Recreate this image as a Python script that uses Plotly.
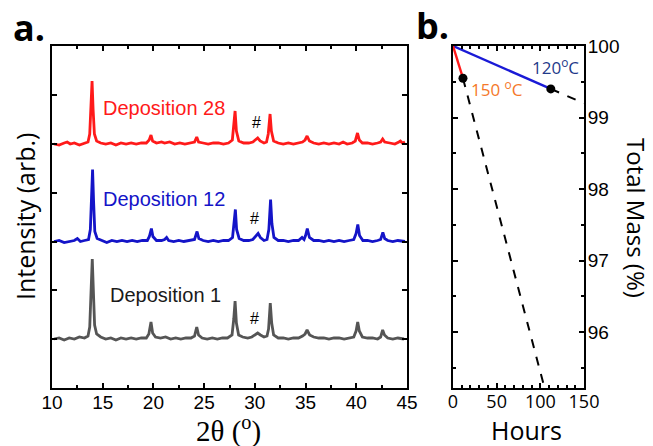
import plotly.graph_objects as go

# ---------------- Panel a: XRD patterns (2theta in degrees, intensity arb.) ----------------
dep1 = [(10.2,0),(10.7,1),(11.2,-1),(11.7,1),(12.2,0),(12.7,2),(13.2,1),(13.55,3),(13.72,12),
        (13.85,45),(13.97,80),(14.08,48),(14.2,14),(14.4,5),(14.8,2),(15.3,0),(15.8,1),(16.3,-1),
        (16.8,1),(17.3,0),(17.8,1),(18.3,0),(18.8,1),(19.3,1),(19.55,5),(19.76,17),(19.92,6),
        (20.2,2),(20.7,1),(21.2,2),(21.7,0),(22.2,1),(22.7,0),(23.2,1),(23.7,1),(24.05,3),
        (24.27,12),(24.45,4),(24.8,1),(25.3,0),(25.8,1),(26.3,0),(26.8,1),(27.3,1),(27.75,4),
        (27.92,20),(28.05,38),(28.18,16),(28.4,4),(28.8,2),(29.3,1),(29.7,2),(30.05,4),(30.28,6),
        (30.55,4),(30.9,2),(31.2,3),(31.35,10),(31.52,36),(31.66,16),(31.85,4),(32.3,1),(32.8,1),
        (33.3,0),(33.8,1),(34.3,1),(34.7,3),(34.95,5),(35.15,9),(35.4,4),(35.8,2),(36.3,1),
        (36.8,1),(37.3,0),(37.8,1),(38.3,1),(38.8,0),(39.3,1),(39.75,2),(39.98,8),(40.14,17),
        (40.3,8),(40.6,2),(41.1,1),(41.6,1),(42.1,0),(42.4,2),(42.6,9),(42.78,4),(43.1,1),
        (43.6,0),(44.1,1),(44.7,0)]

dep12 = [(10.2,0),(10.7,1),(11.2,-1),(11.7,0),(12.2,1),(12.5,3),(12.8,0),(13.2,1),(13.6,2),
         (13.78,12),(13.9,45),(14.0,72),(14.1,40),(14.22,10),(14.45,3),(14.9,1),(15.4,-1),
         (15.9,1),(16.4,0),(16.9,1),(17.4,0),(17.9,1),(18.4,0),(18.9,1),(19.4,1),(19.6,5),
         (19.8,13),(19.95,5),(20.3,1),(20.8,1),(21.1,2),(21.3,4),(21.5,1),(22.0,0),(22.5,1),
         (23.0,0),(23.5,1),(24.05,2),(24.3,10),(24.48,3),(24.9,1),(25.4,0),(25.9,1),(26.4,0),
         (26.9,1),(27.4,1),(27.8,4),(27.95,18),(28.08,32),(28.2,12),(28.45,3),(28.9,1),(29.4,1),
         (29.8,2),(30.1,5),(30.32,8),(30.55,4),(30.9,1),(31.2,2),(31.38,12),(31.55,42),(31.68,18),
         (31.88,4),(32.3,1),(32.8,1),(33.3,0),(33.8,1),(34.3,1),(34.65,4),(34.85,2),(35.0,6),
         (35.17,13),(35.38,4),(35.8,1),(36.3,1),(36.8,0),(37.3,1),(37.8,0),(38.3,1),(38.8,0),
         (39.3,1),(39.75,2),(39.98,8),(40.15,17),(40.32,6),(40.65,1),(41.1,1),(41.6,0),(42.1,1),
         (42.4,2),(42.62,9),(42.8,3),(43.1,1),(43.6,0),(44.1,1),(44.8,0)]

dep28 = [(10.2,0),(10.7,-1),(11.2,1),(11.5,2),(11.8,0),(12.2,1),(12.7,-1),(13.2,1),(13.55,2),
         (13.72,10),(13.85,40),(13.95,63),(14.05,35),(14.18,10),(14.4,3),(14.8,1),(15.3,0),
         (15.8,1),(16.3,-1),(16.8,1),(17.3,0),(17.8,1),(18.3,0),(18.8,1),(19.3,1),(19.58,4),
         (19.76,9),(19.92,3),(20.3,1),(20.8,2),(21.1,1),(21.6,2),(22.1,0),(22.6,1),(23.1,0),
         (23.6,1),(24.05,2),(24.27,7),(24.45,2),(24.9,1),(25.4,0),(25.9,1),(26.4,1),(26.9,0),
         (27.4,1),(27.78,4),(27.93,18),(28.05,33),(28.18,13),(28.42,3),(28.9,1),(29.4,1),
         (29.8,2),(30.08,4),(30.28,6),(30.52,3),(30.9,1),(31.15,2),(31.32,10),(31.5,30),
         (31.63,13),(31.85,3),(32.3,1),(32.8,0),(33.3,1),(33.8,0),(34.3,1),(34.7,2),(34.95,4),
         (35.15,8),(35.38,3),(35.8,1),(36.3,0),(36.8,1),(37.3,0),(37.8,1),(38.3,0),(38.7,2),
         (39.1,0),(39.6,1),(39.9,3),(40.12,11),(40.3,4),(40.6,1),(41.1,1),(41.6,0),(42.1,1),
         (42.4,2),(42.6,5),(42.8,2),(43.3,1),(43.8,0),(44.2,2),(44.35,3),(44.55,1),(44.8,2)]

pattern_names = ["Deposition 1", "Deposition 12", "Deposition 28"]
pattern_offsets = [0, 97.5, 195]
pattern_colors = ["#555555", "#1414c8", "#ff1a1a"]
label_colors = ["#1a1a1a", "#1414c8", "#ff1a1a"]
label_x = [21.2, 21.05, 21.05]
label_y = [44, 140, 231]
hash_x = [30.0, 30.0, 30.2]
hash_y = [21, 121, 216]

# ---------------- Panel b: mass loss vs time ----------------
hours_120 = [0, 112]
mass_120 = [100, 99.40]
hours_120_ext = [112, 150]
mass_120_ext = [99.40, 99.20]
hours_150 = [0, 11.4]
mass_150 = [100, 99.55]
hours_150_ext = [11.4, 110]
mass_150_ext = [99.55, 94.98]

W, H = 653, 446
fig = go.Figure()

for pts, name, off, col in zip([dep1, dep12, dep28], pattern_names, pattern_offsets, pattern_colors):
    fig.add_trace(go.Scatter(x=[p[0] for p in pts], y=[p[1] + off for p in pts], mode="lines",
                             line=dict(color=col, width=2.8), name=name, showlegend=False,
                             xaxis="x", yaxis="y"))

fig.add_trace(go.Scatter(x=hours_150_ext, y=mass_150_ext, mode="lines",
                         line=dict(color="black", width=2, dash="dash"), showlegend=False,
                         xaxis="x2", yaxis="y2"))
fig.add_trace(go.Scatter(x=hours_120_ext, y=mass_120_ext, mode="lines",
                         line=dict(color="black", width=2, dash="dash"), showlegend=False,
                         xaxis="x2", yaxis="y2"))
fig.add_trace(go.Scatter(x=hours_120, y=mass_120, mode="lines",
                         line=dict(color="#1a1ad6", width=2.4), showlegend=False,
                         xaxis="x2", yaxis="y2"))
fig.add_trace(go.Scatter(x=hours_150, y=mass_150, mode="lines",
                         line=dict(color="#ff1a1a", width=2.4), showlegend=False,
                         xaxis="x2", yaxis="y2"))
fig.add_trace(go.Scatter(x=[hours_150[1], hours_120[1]], y=[mass_150[1], mass_120[1]], mode="markers",
                         marker=dict(color="black", size=9), showlegend=False,
                         xaxis="x2", yaxis="y2"))

tickfont = dict(family="Liberation Sans, Arial", size=19, color="black")
axis_common = dict(showline=True, linecolor="black", linewidth=2, mirror="ticks",
                   ticks="inside", tickcolor="black", tickwidth=1.5, ticklen=5,
                   showgrid=False, zeroline=False, automargin=False)

ann = []
for name, lx, ly, lc, hx, hy in zip(pattern_names, label_x, label_y, label_colors, hash_x, hash_y):
    ann.append(dict(x=lx, y=ly, xref="x", yref="y", text=name, showarrow=False,
                    font=dict(family="Liberation Sans, Arial", size=20, color=lc)))
    ann.append(dict(x=hx, y=hy, xref="x", yref="y", text="#", showarrow=False,
                    font=dict(family="Liberation Sans, Arial", size=16, color="black")))

ann += [
    dict(x=116.8, y=99.71, xref="x2", yref="y2", text="120<sup>o</sup>C", showarrow=False,
         font=dict(family="Open Sans", size=17, color="#1f3a8a")),
    dict(x=50.4, y=99.40, xref="x2", yref="y2", text="150 <sup>o</sup>C", showarrow=False,
         font=dict(family="Open Sans", size=17, color="#f5782a")),
    dict(x=29 / W, y=1 - 28 / H, xref="paper", yref="paper", text="<b>a.</b>", showarrow=False,
         font=dict(family="Open Sans", size=36, color="black")),
    dict(x=432 / W, y=1 - 25 / H, xref="paper", yref="paper", text="<b>b.</b>", showarrow=False,
         font=dict(family="Open Sans", size=36, color="black")),
    dict(x=25 / W, y=1 - 217 / H, xref="paper", yref="paper", text="Intensity (arb.)",
         textangle=-90, showarrow=False, font=dict(family="Open Sans", size=25, color="black")),
    dict(x=637 / W, y=1 - 218 / H, xref="paper", yref="paper", text="Total Mass (%)",
         textangle=90, showarrow=False, font=dict(family="Open Sans", size=24, color="black")),
    dict(x=229 / W, y=1 - 429 / H, xref="paper", yref="paper", text="2θ (<sup>o</sup>)",
         showarrow=False, font=dict(family="Liberation Serif", size=29, color="black")),
    dict(x=526 / W, y=1 - 430 / H, xref="paper", yref="paper", text="Hours",
         showarrow=False, font=dict(family="Open Sans", size=25, color="black")),
]
for a in ann:
    a["xanchor"] = "center"
    a["yanchor"] = "middle"

y_top, y_bot = 1 - 46 / H, 1 - 388 / H

fig.update_layout(
    width=W, height=H, margin=dict(l=0, r=0, t=0, b=0),
    paper_bgcolor="white", plot_bgcolor="white",
    xaxis=dict(domain=[52 / W, 407 / W], range=[10, 45], dtick=5, tick0=10,
               minor=dict(dtick=2.5, ticks="inside", ticklen=3, tickcolor="black"),
               tickfont=tickfont, anchor="y", ticklabelstandoff=-4, **axis_common),
    yaxis=dict(domain=[y_bot, y_top], range=[-49, 293], tick0=0, dtick=48.75,
               showticklabels=False, anchor="x", **axis_common),
    xaxis2=dict(domain=[453 / W, 584 / W], range=[0, 150], dtick=50, tick0=0,
                minor=dict(dtick=10, ticks="inside", ticklen=3, tickcolor="black"),
                tickfont=dict(family="Open Sans", size=18, color="black"), anchor="y2",
                ticklabelstandoff=-4, **axis_common),
    yaxis2=dict(domain=[y_bot, y_top], range=[95.22, 100], dtick=1, tick0=96, side="right",
                minor=dict(dtick=0.5, ticks="inside", ticklen=3, tickcolor="black"),
                tickfont=tickfont, anchor="x2", ticklabelstandoff=-2, **axis_common),
    annotations=ann,
)

fig.write_html("out.html", config={"responsive": False, "displayModeBar": False},
               post_script="document.body.style.margin='0';document.body.style.overflow='hidden';")
